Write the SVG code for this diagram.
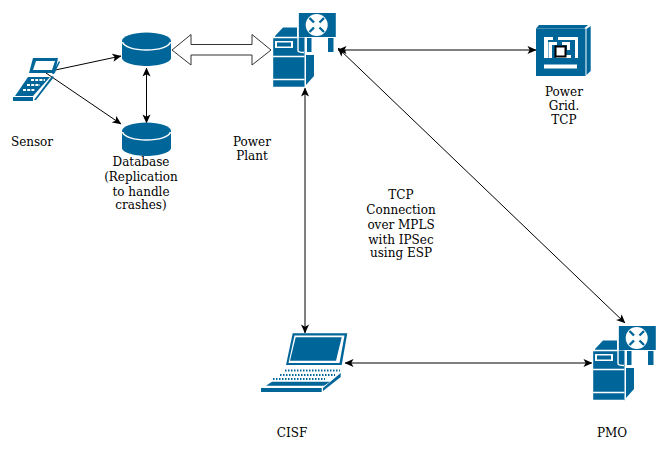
<svg xmlns="http://www.w3.org/2000/svg" width="669" height="453" viewBox="0 0 669 453">
<style>
.b{fill:#006699}
.w{fill:#fff}
.wl{fill:none;stroke:#fff;stroke-width:1.4}
.c{fill:none;stroke:#000;stroke-width:1;marker-start:url(#a);marker-end:url(#a)}
.e{fill:none;stroke:#000;stroke-width:1;marker-end:url(#a)}
text{font-family:"DejaVu Serif",serif;font-size:12px;fill:#000;text-anchor:middle}
</style>
<defs>
<marker id="a" viewBox="0 0 10 10" refX="9.5" refY="5" markerWidth="9" markerHeight="9" markerUnits="userSpaceOnUse" orient="auto-start-reverse"><path d="M0,0.5L10,5L0,9.5L2.5,5Z" fill="#000"/></marker>
<g id="server">
<path class="b" d="M275,36 L283,27.500 H297 V37 H275Z"/>
<rect class="b" x="272.500" y="37.500" width="32" height="50"/>
<path class="wl" d="M272.500,37.500H298M272.500,56.500H304.500M272.500,79.500H304.500M272.500,37.500V87.500H304.500"/>
<rect class="w" x="275" y="41" width="18" height="7"/><rect class="b" x="277" y="42.500" width="14" height="4"/>
<path class="b" d="M306,55 H314 V76 L306,85Z"/>
<rect class="b" x="298.500" y="13" width="38" height="24"/>
<path class="wl" d="M298,13V50.500Q298,52.500 304,52.500M336.500,13V52"/>
<path class="b" d="M307,38H311.500V52H307ZM328,38H333.500V52H328Z"/>
<circle class="w" cx="316.700" cy="25" r="11"/>
<path d="M309.500,18L314,22.500M324,18L319.500,22.500M309.500,32L314,27.500M324,32L319.500,27.500" stroke="#006699" stroke-width="2.400" fill="none"/>
</g>
<g id="cyl">
<path class="b" d="M122,41V58C122,62 133,66 146.500,66S171,62 171,58V41Z"/>
<ellipse class="b" cx="146.500" cy="41" rx="24.500" ry="8.500"/>
<path class="wl" d="M122.500,42C124,47 134,50 146.500,50S169,47 170.500,42"/>
</g>
</defs>
<g id="connectors">
<path class="e" d="M46,72L121,56"/>
<path class="e" d="M46,73L121,124"/>
<path class="c" d="M146.500,68V123"/>
<path class="c" d="M338,50H536"/>
<path class="c" d="M305,88V333"/>
<path class="c" d="M338,48L625,323"/>
<path class="c" d="M345,363H592"/>
</g>
<g id="sensor">
<path class="b" d="M33,58H58L55,73H29ZM36,61L33,70H52L55,61Z" fill-rule="evenodd"/>
<path class="b" d="M59,61L60,62L54,74H52Z"/>
<path class="b" d="M28,77H50L33,96H15Z"/>
<path class="b" d="M52,76L54,77L36,100H34Z"/>
<path class="b" d="M13,97H33V101H13Z"/>
<path d="M31,80H45M27,85H40M23,90H35" stroke="#fff" stroke-width="2" stroke-dasharray="3 1.200" fill="none"/>
</g>
<g id="database1"><use href="#cyl"/></g>
<g id="database2"><use href="#cyl" y="90"/>
<text x="141" y="166">Database</text><text x="141" y="181">(Replication</text><text x="141" y="196">to handle</text><text x="141" y="209">crashes)</text></g>
<g id="sensor-label"><text x="32" y="146">Sensor</text></g>
<path id="block-arrow" d="M172,50L191,34.500V44.500H252V34.500L271,50L252,65V55H191V65Z" fill="#fff" stroke="#333" stroke-width="1"/>
<g id="power-plant"><use href="#server"/><text x="252" y="146">Power</text><text x="252" y="160">Plant</text></g>
<g id="power-grid">
<path class="b" d="M539,25H588L584,28.500H536Z"/>
<path class="b" d="M586.500,29L590.700,26V71L586.500,75Z"/>
<rect class="b" x="536" y="28.500" width="49.500" height="47.500"/>
<path class="w" d="M544,37H553V40H548V58H544ZM558,37H578V58H575V40H558ZM544,64.500H577V68.500H544Z"/>
<path class="w" d="M548.500,42H557V45H552V58H548.500ZM562,42H570V50H567V45H562ZM556,58H571V55H556Z"/>
<rect x="555.500" y="46.500" width="10" height="10" fill="#fff" stroke="#000" stroke-width="2"/>
<text x="564" y="96">Power</text><text x="564" y="110">Grid.</text><text x="564" y="124">TCP</text>
</g>
<g id="tcp-label"><text x="401" y="199">TCP</text><text x="401" y="214">Connection</text><text x="401" y="229">over MPLS</text><text x="401" y="244">with IPSec</text><text x="401" y="257">using ESP</text></g>
<g id="cisf">
<path class="b" d="M292.700,333.300H347.300L341.700,365H286ZM294.500,335.500L288.500,363H339.500L344.500,335.500Z" fill-rule="evenodd"/>
<path class="b" d="M295.700,337.300H341.700L336,360.700H290Z"/>
<path d="M285,370.500H340M280,375H335M273,379H325" stroke="#006699" stroke-width="2" stroke-dasharray="1.500 1.500" fill="none"/>
<path class="b" d="M272,381.700H330L324,385.700H266Z"/>
<path class="b" d="M261,388H321.700V392H261Z"/>
<path class="b" d="M323,388L340.700,373V377L323,391Z"/>
<text x="292" y="437">CISF</text>
</g>
<g id="pmo"><use href="#server" x="320" y="313"/><text x="612" y="437">PMO</text></g>
</svg>
